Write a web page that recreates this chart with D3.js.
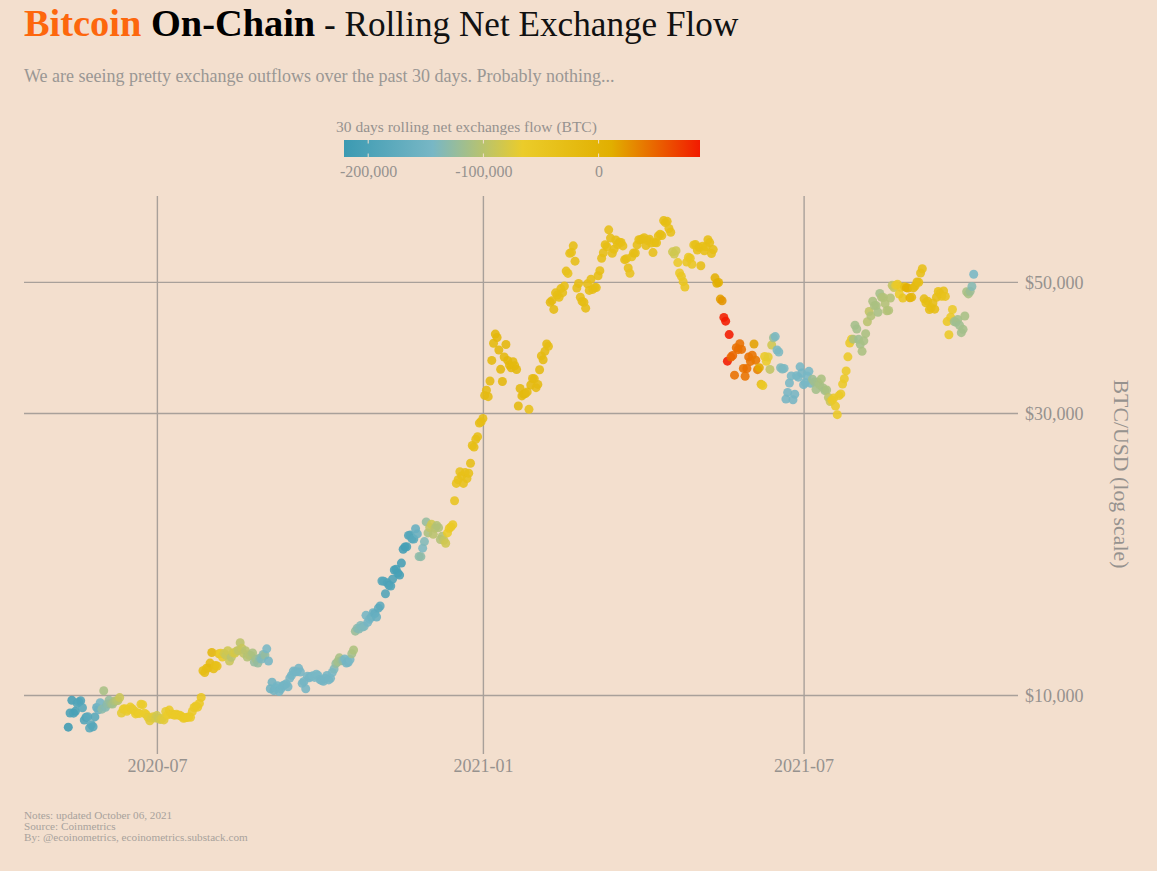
<!DOCTYPE html>
<html>
<head>
<meta charset="utf-8">
<script src="https://cdn.jsdelivr.net/npm/d3@7"></script>
<style>
  html, body { margin: 0; padding: 0; background: #f3dfce; }
  svg { display: block; font-family: "Liberation Serif", serif; }
</style>
</head>
<body>
<div id="figure_area"></div>
<script>
// ----- ----- ----- ----- ----- ----- ----- ----- -----
// DATA
// one value per day, starting from firstDay
const firstDay = "2020-05-12";

// BTC/USD
const btcPrice = [
  // 2020-05
  8821, 9321, 9795, 9316, 9381, 9680, 9733, 9775, 9512, 9068, 9170, 9185, 8790, 8906, 8835, 9181, 9525, 9440, 9700, 9461,
  // 2020-06
  10167, 9529, 9656, 9800, 9665, 9653, 9758, 9771, 9786, 9897, 9321, 9464, 9473, 9386, 9450, 9538, 9480, 9411, 9288, 9332, 9303, 9648, 9629, 9313, 9264, 9162, 9045, 9143, 9190, 9137,
  // 2020-07
  9228, 9123, 9087, 9132, 9073, 9375, 9252, 9428, 9277, 9278, 9240, 9276, 9243, 9243, 9192, 9132, 9151, 9160, 9185, 9164, 9374, 9525, 9581, 9536, 9677, 9905, 10990, 10912, 11100, 11111, 11323,
  // 2020-08
  11801, 11071, 11219, 11191, 11744, 11762, 11594, 11754, 11675, 11878, 11410, 11584, 11784, 11768, 11865, 11892, 12254, 11991, 11758, 11878, 11592, 11681, 11664, 11774, 11366, 11488, 11324, 11542, 11506, 11711, 11680,
  // 2020-09
  11970, 11414, 10245, 10511, 10169, 10280, 10369, 10131, 10242, 10363, 10400, 10442, 10323, 10680, 10796, 10974, 10948, 10944, 11094, 10938, 10462, 10538, 10246, 10760, 10692, 10750, 10775, 10709, 10844, 10784,
  // 2020-10
  10620, 10575, 10550, 10673, 10793, 10604, 10668, 10915, 11064, 11296, 11384, 11555, 11425, 11430, 11505, 11322, 11358, 11483, 11742, 11916, 12823, 12965, 12931, 13108, 13031, 13067, 13639, 13271, 13437, 13546, 13781,
  // 2020-11
  13737, 13550, 14023, 14146, 15590, 15580, 14833, 15479, 15332, 15290, 15701, 16276, 16317, 16068, 15955, 16716, 17645, 17804, 17817, 18621, 18642, 18370, 18364, 19107, 18732, 17150, 17139, 17719, 18178, 19625,
  // 2020-12
  18802, 19201, 19445, 18699, 19154, 19345, 19191, 18321, 18553, 18264, 18058, 18803, 19142, 19246, 19417, 21310, 22806, 23137, 23869, 23477, 22803, 23783, 23241, 23735, 24664, 26437, 26272, 27084, 27362, 28841, 29001,
  // 2021-01
  29374, 32127, 32782, 31971, 33992, 36824, 39371, 40797, 40254, 38356, 35566, 33922, 37316, 39187, 36825, 36178, 35792, 36630, 36069, 35547, 30825, 33005, 32067, 32289, 32366, 32569, 30432, 33466, 34316, 34269, 33114,
  // 2021-02
  33537, 35510, 37472, 36926, 38144, 39266, 38903, 46196, 46481, 44918, 47910, 47504, 47105, 48717, 47945, 49199, 52149, 51679, 55888, 56099, 57539, 54207, 48824, 49705, 47093, 46339, 46188, 45137,
  // 2021-03
  49631, 48378, 50538, 48561, 48927, 48912, 51206, 52246, 54824, 56008, 57805, 57332, 61243, 59302, 55907, 56804, 58870, 57858, 58346, 58313, 57523, 54529, 54738, 52774, 51704, 55137, 55973, 55950, 57750, 58917, 58918,
  // 2021-04
  59095, 59384, 57604, 58758, 59057, 58192, 56048, 58323, 58245, 59793, 60204, 59893, 63503, 62980, 63314, 61572, 60683, 56216, 55724, 56473, 53906, 51763, 51093, 50050, 49004, 54021, 55033, 54824, 53555, 57750,
  // 2021-05
  57828, 56631, 57214, 53241, 57473, 56428, 57380, 58928, 58280, 55859, 56704, 50800, 49716, 49880, 46760, 46456, 43538, 42909, 36720, 40717, 37304, 37536, 34770, 38705, 38402, 39295, 38436, 35697, 34616, 35678, 37332,
  // 2021-06
  36684, 37576, 39248, 36856, 35520, 35796, 33552, 33380, 37389, 36693, 37313, 35552, 39097, 40218, 40406, 38347, 38053, 35787, 35615, 35698, 31676, 32505, 33723, 34663, 31594, 32283, 34700, 34494, 35911, 35045,
  // 2021-07
  33504, 33786, 34669, 35287, 33690, 34220, 33862, 32875, 33815, 33502, 34259, 33086, 32729, 32820, 31880, 31383, 31533, 31796, 30817, 29807, 32110, 32314, 33581, 34292, 35350, 37337, 39406, 39995, 40008, 42235, 41626,
  // 2021-08
  39974, 39201, 38152, 39747, 40869, 42816, 44555, 43798, 46365, 45585, 45593, 44428, 47793, 47096, 47047, 45936, 44686, 44742, 46957, 49339, 48905, 49321, 49546, 47706, 48960, 46942, 49058, 48897, 48807, 46991, 47112,
  // 2021-09
  48846, 49246, 49999, 49915, 51756, 52633, 46811, 46091, 46391, 44883, 45201, 46063, 44963, 47092, 48176, 47783, 47267, 48278, 47260, 42843, 40694, 43574, 44895, 42840, 42716, 43208, 42236, 41034, 41564, 43790,
  // 2021-10
  48116, 47711, 48200, 49112, 51514
];

// 30 days rolling net exchanges flow, thousands of BTC
const netFlow = [
  // 2020-05
  -218, -205, -210, -200, -205, -195, -190, -195, -190, -195, -195, -180, -185, -185, -190, -185, -170, -160, -150, -130,
  // 2020-06
  -112, -135, -130, -125, -120, -115, -110, -105, -100, -88, -70, -68, -66, -68, -66, -66, -64, -68, -66, -64, -66, -68, -66, -66, -66, -70, -72, -75, -72, -80,
  // 2020-07
  -85, -88, -82, -78, -72, -70, -66, -62, -62, -60, -60, -60, -60, -60, -60, -58, -58, -60, -60, -60, -58, -56, -55, -55, -55, -50, -30, -25, -28, -25, -20,
  // 2020-08
  -8, -25, -32, -35, -40, -65, -60, -85, -90, -85, -90, -100, -85, -80, -85, -95, -98, -90, -95, -100, -105, -100, -105, -110, -125, -115, -125, -130, -140, -135, -125,
  // 2020-09
  -145, -150, -155, -155, -155, -150, -150, -150, -150, -150, -150, -150, -150, -148, -148, -148, -148, -148, -148, -148, -148, -148, -148, -148, -148, -148, -145, -145, -145, -145,
  // 2020-10
  -148, -148, -148, -148, -148, -148, -148, -145, -140, -125, -115, -112, -118, -130, -145, -150, -150, -145, -115, -108, -122, -132, -135, -138, -138, -140, -150, -148, -150, -155, -158,
  // 2020-11
  -170, -165, -175, -180, -190, -190, -195, -195, -200, -195, -200, -205, -205, -205, -205, -210, -210, -210, -205, -195, -190, -190, -185, -165, -165, -130, -130, -142, -138, -125,
  // 2020-12
  -110, -95, -85, -100, -100, -105, -105, -105, -105, -92, -85, -65, -60, -58, -58, -45, -40, -38, -38, -35, -35, -35, -35, -35, -30, -30, -30, -30, -30, -25, -25,
  // 2021-01
  -25, -22, -22, -20, -18, -15, -15, -10, -10, -10, -10, -10, -12, -10, -10, -10, -10, -15, -15, -12, -15, -15, -15, -15, -15, -20, -35, -15, -20, -20, -22,
  // 2021-02
  -20, -20, -22, -20, -22, -20, -25, -20, -20, -22, -30, -28, -28, -28, -30, -28, -30, -38, -35, -35, -28, -30, -25, -25, -25, -25, -25, -25,
  // 2021-03
  -25, -25, -30, -25, -25, -28, -28, -28, -30, -30, -28, -28, -30, -28, -30, -28, -30, -30, -30, -30, -32, -25, -30, -32, -40, -38, -30, -30, -30, -28, -28,
  // 2021-04
  -28, -28, -28, -30, -30, -30, -32, -32, -28, -28, -28, -30, -28, -28, -28, -32, -32, -85, -85, -85, -62, -55, -50, -50, -48, -50, -55, -50, -50, -45,
  // 2021-05
  -35, -35, -30, -30, -32, -32, -32, -30, -30, -32, -30, 5, 5, 10, 18, 25, 85, 88, 88, 88, 50, 48, 44, 44, 45, 44, 44, 42, 42, 44, 44,
  // 2021-06
  42, 42, 18, 40, 36, 15, -30, -55, -60, -65, -70, -95, -85, -120, -142, -142, -142, -140, -140, -142, -148, -148, -145, -145, -148, -148, -145, -145, -145, -148,
  // 2021-07
  -148, -145, -145, -145, -145, -120, -118, -115, -115, -112, -110, -112, -115, -110, -100, -90, -62, -62, -62, -62, -62, -62, -62, -62, -62, -62, -62, -65, -110, -115, -115,
  // 2021-08
  -118, -115, -110, -112, -110, -100, -95, -105, -110, -110, -110, -112, -115, -108, -105, -105, -105, -105, -105, -95, -90, -70, -60, -65, -55, -50, -30, 5, 5, 5, -10,
  // 2021-09
  -15, -20, -22, -25, -32, -32, -25, -28, -28, -28, -28, -28, -25, -30, -35, -35, -35, -35, -42, -55, -60, -62, -62, -115, -118, -115, -118, -115, -115, -112,
  // 2021-10
  -112, -112, -120, -135, -145
];

const flowStops = [-221, -144, -66, 11, 88];
const flowColors = ["#3B9AB2", "#78B7C5", "#EBCC2A", "#E1AF00", "#F21A00"];
const flowTicks = [-200, -100, 0];

const priceTicks = [10000, 30000, 50000];
const dateTicks = ["2020-07-01", "2021-01-01", "2021-07-01"];
const dateDomain = ["2020-04-17", "2021-10-30"];
const priceDomain = [7945, 69880];

const noteLines = [
  "Notes: updated October 06, 2021",
  "Source: Coinmetrics",
  "By: @ecoinometrics, ecoinometrics.substack.com"
];

// ----- ----- ----- ----- ----- ----- ----- ----- -----
// FIGURE
const figure_size = { width: 1157, height: 871, left: 24, right: 1018, top: 196, bottom: 754 };
const lineColor = "#a8a09a";
const textColor = "#96928e";

var svg = d3.select("#figure_area")
  .append("svg")
  .attr("width", figure_size.width)
  .attr("height", figure_size.height);

var x_scale = d3.scaleUtc()
  .domain(dateDomain.map(d => new Date(d)))
  .range([figure_size.left, figure_size.right]);

var y_scale = d3.scaleLog()
  .domain(priceDomain)
  .range([figure_size.bottom, figure_size.top]);

var color_scale = d3.scaleLinear()
  .domain(flowStops)
  .range(flowColors)
  .clamp(true);

// title
var title = svg.append("text")
  .attr("x", 24)
  .attr("y", 36);
title.append("tspan").attr("fill", "#fd670d").attr("font-weight", "bold").attr("font-size", 38.4).text("Bitcoin ");
title.append("tspan").attr("fill", "#000").attr("font-weight", "bold").attr("font-size", 38.4).text("On-Chain");
title.append("tspan").attr("fill", "#111").attr("font-size", 35.2).text(" - Rolling Net Exchange Flow");

svg.append("text")
  .attr("x", 24)
  .attr("y", 82)
  .attr("font-size", 18)
  .attr("fill", "#9a9794")
  .text("We are seeing pretty exchange outflows over the past 30 days. Probably nothing...");

// x axis
var x_axis = d3.axisBottom(x_scale)
  .tickValues(dateTicks.map(d => new Date(d)))
  .tickFormat(d3.utcFormat("%Y-%m"))
  .tickSize(-(figure_size.bottom - figure_size.top))
  .tickPadding(5);

var gx = svg.append("g")
  .attr("transform", "translate(0," + figure_size.bottom + ")")
  .call(x_axis);

// y axis
var y_axis = d3.axisRight(y_scale)
  .tickValues(priceTicks)
  .tickFormat(d3.format("$,"))
  .tickSize(-(figure_size.right - figure_size.left))
  .tickPadding(7);

var gy = svg.append("g")
  .attr("transform", "translate(" + figure_size.right + ",0)")
  .call(y_axis);

[gx, gy].forEach(function (g) {
  g.select(".domain").remove();
  g.selectAll("line").attr("stroke", lineColor).attr("stroke-width", 1.4);
  g.selectAll("text")
    .attr("fill", textColor)
    .attr("font-family", "Liberation Serif")
    .attr("font-size", 18);
});
gy.selectAll("text").attr("dy", "0.38em");

svg.append("text")
  .attr("transform", "translate(1114,474) rotate(90)")
  .attr("text-anchor", "middle")
  .attr("font-size", 21.8)
  .attr("fill", textColor)
  .text("BTC/USD (log scale)");

// points
const startTime = new Date(firstDay).getTime();
const points = btcPrice.map((price, i) => ({
  date: new Date(startTime + i * 86400000),
  price: price,
  flow: netFlow[i]
}));

svg.append("g")
  .selectAll("circle")
  .data(points)
  .join("circle")
  .attr("cx", d => x_scale(d.date))
  .attr("cy", d => y_scale(d.price))
  .attr("r", 4.5)
  .attr("fill", d => color_scale(d.flow))
  .attr("fill-opacity", 0.88);

// colour legend
const legend = { left: 344, right: 700, top: 140, bottom: 157 };

var legend_scale = d3.scaleLinear()
  .domain([flowStops[0], flowStops[flowStops.length - 1]])
  .range([legend.left, legend.right]);

var gradient = svg.append("defs")
  .append("linearGradient")
  .attr("id", "flow-gradient");

gradient.selectAll("stop")
  .data(flowStops)
  .join("stop")
  .attr("offset", (d, i) => (100 * (legend_scale(d) - legend.left) / (legend.right - legend.left)) + "%")
  .attr("stop-color", (d, i) => flowColors[i]);

svg.append("rect")
  .attr("x", legend.left)
  .attr("y", legend.top)
  .attr("width", legend.right - legend.left)
  .attr("height", legend.bottom - legend.top)
  .attr("fill", "url(#flow-gradient)");

svg.append("text")
  .attr("x", 336)
  .attr("y", 132)
  .attr("font-size", 15.5)
  .attr("fill", textColor)
  .text("30 days rolling net exchanges flow (BTC)");

var legend_axis = d3.axisBottom(legend_scale)
  .tickValues(flowTicks)
  .tickFormat(d => d3.format(",")(d * 1000).replace("\u2212", "-"))
  .tickSize(0)
  .tickPadding(9);

var gl = svg.append("g")
  .attr("transform", "translate(0," + legend.bottom + ")")
  .call(legend_axis);
gl.select(".domain").remove();
gl.selectAll("text")
  .attr("fill", textColor)
  .attr("font-family", "Liberation Serif")
  .attr("font-size", 16);

// little white marks inside the legend bar
flowTicks.forEach(function (t) {
  [[legend.top, legend.top + 3.5], [legend.bottom - 3.5, legend.bottom]].forEach(function (ends) {
    svg.append("line")
      .attr("x1", legend_scale(t))
      .attr("x2", legend_scale(t))
      .attr("y1", ends[0])
      .attr("y2", ends[1])
      .attr("stroke", "#f3dfce")
      .attr("stroke-width", 1);
  });
});

// footer
svg.append("g")
  .selectAll("text")
  .data(noteLines)
  .join("text")
  .attr("x", 24)
  .attr("y", (d, i) => 819 + i * 11)
  .attr("font-size", 11.2)
  .attr("fill", "#a8a29c")
  .text(d => d);
</script>
</body>
</html>
